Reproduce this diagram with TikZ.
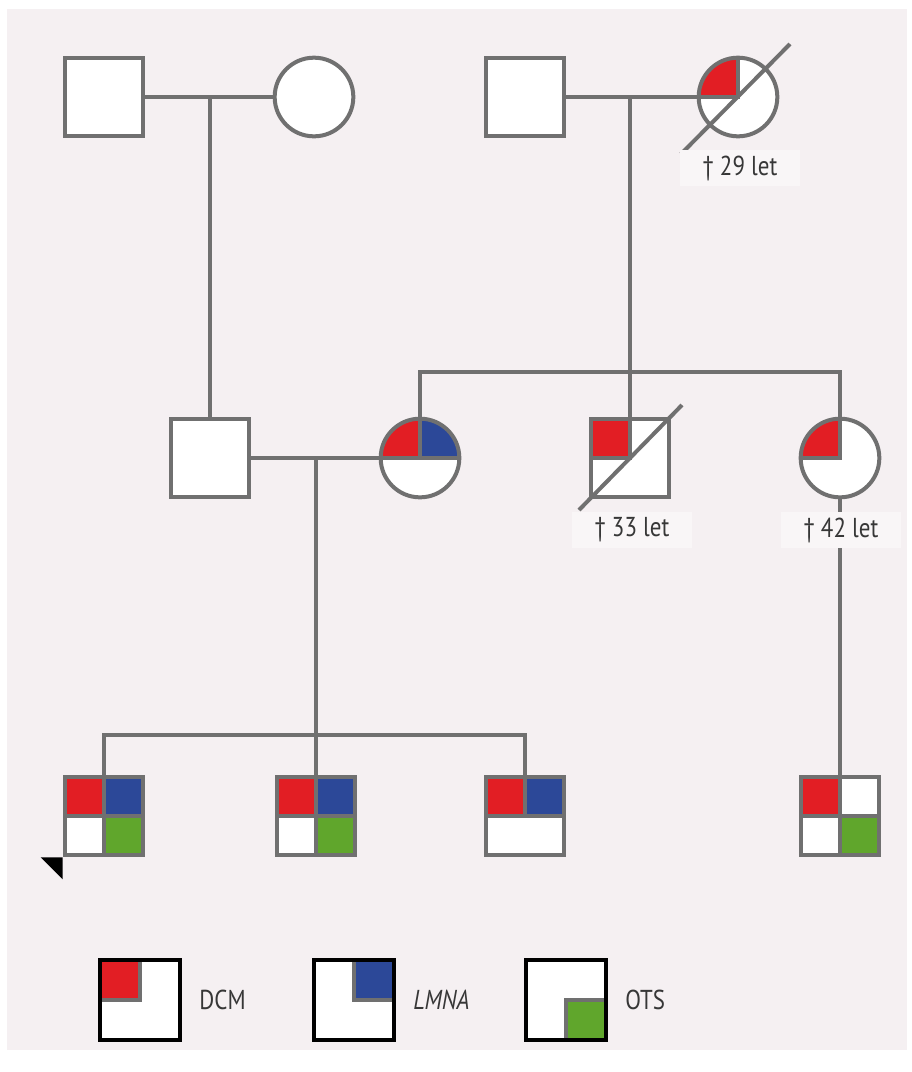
\documentclass[tikz,border=0pt]{standalone}
\usepackage{fontspec}
\setmainfont{PT Sans}[FakeStretch=0.84]
\usetikzlibrary{positioning}
\definecolor{bgpink}{RGB}{245,240,242}
\definecolor{boxpink}{RGB}{249,246,247}
\definecolor{linegray}{RGB}{112,112,112}
\definecolor{dcmred}{RGB}{226,30,36}
\definecolor{lmnablue}{RGB}{44,72,152}
\definecolor{otsgreen}{RGB}{96,166,44}
\definecolor{textgray}{RGB}{55,55,55}
\newcommand{\labelfont}{\fontsize{20.5}{23}\selectfont}
\newcommand{\cellnw}[1]{\filldraw[fill=#1,draw=linegray,line width=3pt] (path picture bounding box.center) rectangle (path picture bounding box.north west);}
\newcommand{\cellne}[1]{\filldraw[fill=#1,draw=linegray,line width=3pt] (path picture bounding box.center) rectangle (path picture bounding box.north east);}
\newcommand{\cellse}[1]{\filldraw[fill=#1,draw=linegray,line width=3pt] (path picture bounding box.center) rectangle (path picture bounding box.south east);}
\begin{document}
\begin{tikzpicture}[x=0.75pt,y=-0.75pt,
    male/.style={rectangle,draw=linegray,line width=3pt,fill=white,minimum size=59pt,inner sep=0pt,outer sep=0pt},
    female/.style={male,circle},
    line/.style={draw=linegray,line width=3pt},
    cells/.style={path picture={#1}},
    dead/.style={font=\labelfont,text=textgray,fill=boxpink,inner xsep=17pt,inner ysep=4pt},
    key/.style={rectangle,draw=black,line width=3.5pt,fill=white,minimum size=60pt,inner sep=0pt,outer sep=0pt},
    keytext/.style={font=\labelfont,text=textgray}]
\useasboundingbox (0,0) rectangle (912,1072);
\fill[white] (0,0) rectangle (912,1072);
\fill[bgpink] (7,9) rectangle (907,1050);

\node[male] (f1) at (104,97) {};
\node[female] (m1) at (314,97) {};
\node[male] (f2) at (525,97) {};
\node[female,cells={\cellnw{dcmred}}] (m2) at (738,97) {};

\node[male] (p1) at (210,458) {};
\node[female,cells={\cellnw{dcmred}\cellne{lmnablue}}] (p2) at (420,458) {};
\node[male,cells={\cellnw{dcmred}}] (u1) at (630,458) {};
\node[female,cells={\cellnw{dcmred}}] (a1) at (840,458) {};

\node[male,cells={\cellnw{dcmred}\cellne{lmnablue}\cellse{otsgreen}}] (c1) at (104,816) {};
\node[male,cells={\cellnw{dcmred}\cellne{lmnablue}\cellse{otsgreen}}] (c2) at (316,816) {};
\node[male,cells={\cellnw{dcmred}\cellne{lmnablue}}] (c3) at (525,816) {};
\node[male,cells={\cellnw{dcmred}\cellse{otsgreen}}] (c4) at (840,816) {};

\coordinate (s2) at (630,372);
\coordinate (s3) at (316,735);
\draw[line] (f1) -- (m1);
\draw[line] (p1 |- f1) -- (p1);
\draw[line] (f2) -- (m2);
\draw[line] (u1 |- f2) -- (u1);
\draw[line] (p2) |- (s2) -| (a1);
\draw[line] (p1) -- (p2);
\draw[line] (c2 |- p2) -- (c2);
\draw[line] (c1) |- (s3) -| (c3);
\draw[line] (a1) -- (c4);

\draw[line] ([shift={(-57,57)}]m2.center) -- ([shift={(52,-53)}]m2.center);
\draw[line] ([shift={(-51,52)}]u1.center) -- ([shift={(52,-53)}]u1.center);
\node[dead] (d29) at (740,168) {† 29 let};
\node[dead] (d33) at (632,530) {† 33 let};
\node[dead] (d42) at (841,530) {† 42 let};

\fill[black] ([shift={(-2,2)}]c1.south west) -- ++(-22,0) -- ++(22,22) -- cycle;

\node[key,cells={\cellnw{dcmred}}] (k1) at (140,1000) {};
\node[keytext,right=11pt of k1] (t1) {DCM};
\node[key,cells={\cellne{lmnablue}}] (k2) at (354,1000) {};
\node[keytext,right=11pt of k2] (t2) {\itshape LMNA};
\node[key,cells={\cellse{otsgreen}}] (k3) at (566,1000) {};
\node[keytext,right=11pt of k3] (t3) {OTS};
\end{tikzpicture}
\end{document}
